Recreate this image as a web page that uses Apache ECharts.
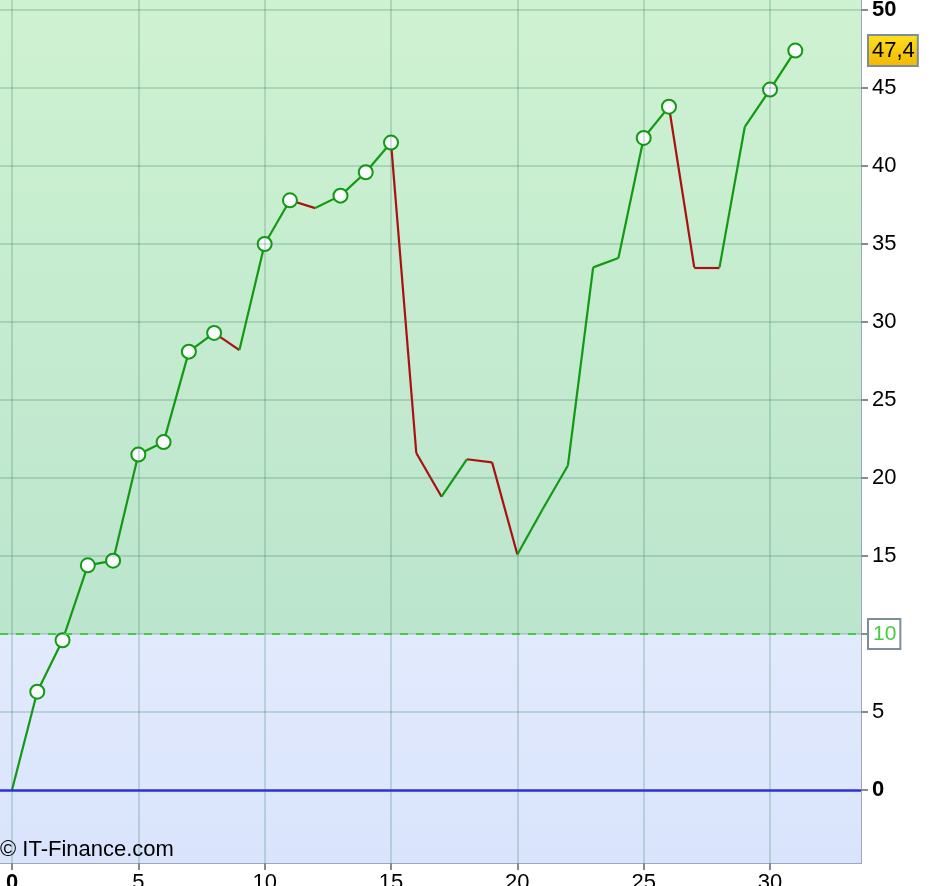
<!DOCTYPE html>
<html>
<head>
<meta charset="utf-8">
<script src="https://cdn.jsdelivr.net/npm/echarts@6.0.0/dist/echarts.min.js"></script>
<style>
  html, body { margin: 0; padding: 0; background: #ffffff; }
  #main { width: 932px; height: 886px; }
</style>
</head>
<body>
<div id="main"></div>
<script>
// valeurs
var days = [0,1,2,3,4,5,6,7,8,9,10,11,12,13,14,15,16,17,18,19,20,21,22,23,24,25,26,27,28,29,30,31];
var equity = [0,6.3,9.6,14.4,14.7,21.5,22.3,28.1,29.3,28.2,35.0,37.8,37.3,38.1,39.6,41.5,
              21.6,18.8,21.2,21.0,15.1,18.0,20.8,33.5,34.1,41.8,43.8,33.5,33.5,42.5,44.9,47.4];
var xTicks = [0,5,10,15,20,25,30];
var yTicks = [0,5,10,15,20,25,30,35,40,45,50];
var threshold = 10;
var lastLabel = '47,4';

var GREEN = '#129a12', RED = '#aa1010';
var yMin = -4.68, yMax = 50.64;

// segments montants / descendants
var segs = [];
for (var i = 0; i < days.length - 1; i++) {
  segs.push({
    coords: [[days[i], equity[i]], [days[i+1], equity[i+1]]],
    lineStyle: { color: equity[i+1] > equity[i] ? GREEN : RED }
  });
}
// points sur les nouveaux plus hauts
var highs = [];
var best = equity[0];
for (var j = 1; j < days.length; j++) {
  if (equity[j] > best) { best = equity[j]; highs.push([days[j], equity[j]]); }
}

var myChart = echarts.init(document.getElementById('main'));
var font = 'Liberation Sans, Arial, sans-serif';
var gridCol = 'rgba(40,110,80,0.2)';
var axCol = '#7d8d9c';

// quadrillage
var gridLines = [];
xTicks.forEach(function (v) { gridLines.push({ xAxis: v }); });
yTicks.forEach(function (v) { if (v !== 0) gridLines.push({ yAxis: v }); });

myChart.setOption({
  animation: false,
  grid: { left: 0, right: 71, top: 0, bottom: 23, outerBoundsMode: 'none' },
  xAxis: {
    type: 'value', min: -0.475, max: 33.6,
    axisLine: { show: true, onZero: false, lineStyle: { color: axCol, width: 1.5 } },
    axisTick: { show: true, customValues: xTicks, length: 7, lineStyle: { color: axCol, width: 2 } },
    axisLabel: {
      customValues: xTicks, fontSize: 22, fontFamily: font, color: '#000', margin: 9,
      formatter: function (v) { return v === 0 ? '{b|0}' : String(v); },
      rich: { b: { fontWeight: 'bold', fontSize: 22, fontFamily: font, color: '#000' } }
    },
    splitLine: { show: false }
  },
  yAxis: {
    type: 'value', position: 'right', min: yMin, max: yMax,
    axisLine: { show: true, onZero: false, lineStyle: { color: axCol, width: 1.5 } },
    axisTick: { show: true, customValues: yTicks, length: 7, lineStyle: { color: axCol, width: 2 } },
    axisLabel: {
      customValues: yTicks, fontSize: 22, fontFamily: font, color: '#000', margin: 11,
      formatter: function (v) { return (v === 0 || v === 50) ? '{b|' + v + '}' : String(v); },
      rich: { b: { fontWeight: 'bold', fontSize: 22, fontFamily: font, color: '#000' } }
    },
    splitLine: { show: false }
  },
  graphic: [{
    type: 'text', left: 0, top: 839, z: 100,
    style: { text: '\u00a9 IT-Finance.com', fontSize: 22, fontFamily: font, fill: '#000' }
  }],
  series: [
    {
      type: 'line', data: [], silent: true, z: -1,
      markArea: {
        silent: true,
        data: [
          [{ yAxis: yMax, itemStyle: { color: {
              type: 'linear', x: 0, y: 0, x2: 0, y2: 1,
              colorStops: [{ offset: 0, color: '#cef2d1' }, { offset: 1, color: '#bce5ce' }] } } },
           { yAxis: threshold }],
          [{ yAxis: threshold, itemStyle: { color: {
              type: 'linear', x: 0, y: 0, x2: 0, y2: 1,
              colorStops: [{ offset: 0, color: '#e2eafd' }, { offset: 1, color: '#d9e4fc' }] } } },
           { yAxis: yMin }]
        ]
      }
    },
    {
      type: 'line', data: [], silent: true, z: 1,
      markLine: {
        silent: true, symbol: 'none', animation: false, label: { show: false },
        lineStyle: { color: gridCol, width: 2, type: 'solid', opacity: 1 },
        data: gridLines
      }
    },
    {
      type: 'line', data: [], silent: true, z: 2,
      markLine: {
        silent: true, symbol: 'none', animation: false,
        data: [
          { yAxis: 0, lineStyle: { color: '#3030d0', width: 2.5, type: 'solid' }, label: { show: false } },
          { yAxis: threshold, lineStyle: { color: '#44cc44', width: 2, type: [8, 8] },
            label: { show: true, position: 'end', formatter: String(threshold), distance: 8,
                     fontSize: 21, fontFamily: font, color: '#44cc44', backgroundColor: '#ffffff',
                     borderColor: '#7d8d98', borderWidth: 2, padding: [4, 3, 3, 4] } },
          { yAxis: equity[equity.length - 1], lineStyle: { width: 1, color: 'rgba(0,0,0,0)', type: 'solid' },
            label: { show: true, position: 'end', formatter: lastLabel, distance: 8,
                     fontSize: 22, fontFamily: font, color: '#000',
                     backgroundColor: { type: 'linear', x: 0, y: 0, x2: 0, y2: 1,
                       colorStops: [{ offset: 0, color: '#ffe020' }, { offset: 1, color: '#f0b800' }] },
                     borderColor: '#7d8d98', borderWidth: 2, padding: [4, 2, 3, 3] } }
        ]
      }
    },
    {
      type: 'lines', coordinateSystem: 'cartesian2d', polyline: false, silent: true,
      lineStyle: { width: 2.2, opacity: 1 },
      data: segs, z: 3
    },
    {
      type: 'scatter', data: highs, symbol: 'circle', symbolSize: 14, z: 4, silent: true,
      itemStyle: { color: '#fafcff', borderColor: GREEN, borderWidth: 2, opacity: 1 }
    }
  ]
});
</script>
</body>
</html>
